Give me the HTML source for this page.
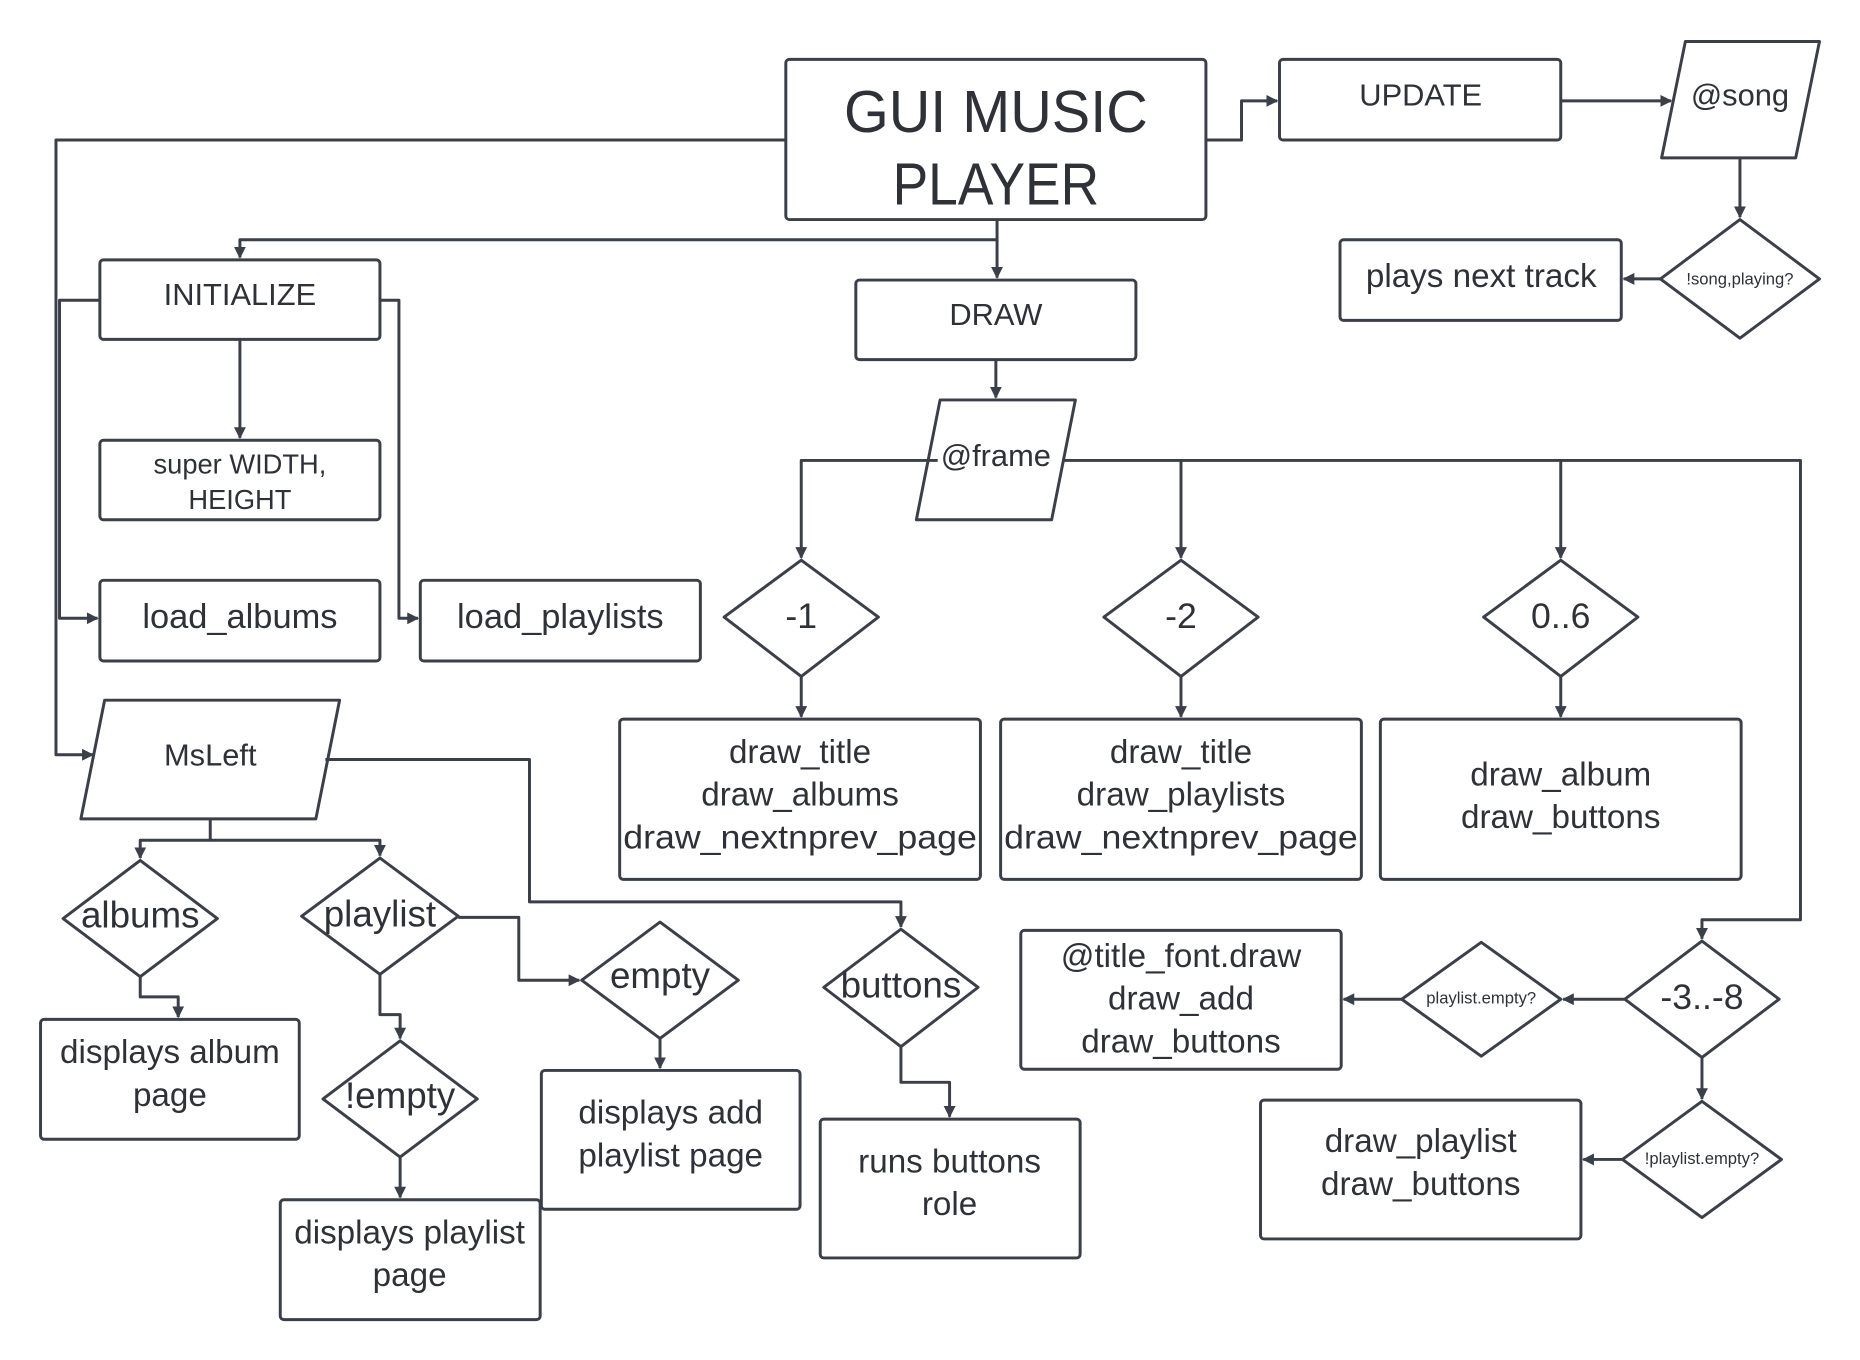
<!DOCTYPE html>
<html><head><meta charset="utf-8"><style>
html,body{margin:0;padding:0;background:#fff}
svg{display:block}
text{font-family:"Liberation Sans",sans-serif;fill:#2e3138;text-anchor:middle;dominant-baseline:central}
</style></head><body>
<svg width="1860" height="1360" viewBox="0 0 1567 1146" xmlns="http://www.w3.org/2000/svg">
<defs><marker id="a" markerWidth="10" markerHeight="10" refX="9" refY="5" orient="auto" markerUnits="userSpaceOnUse"><path d="M0,0 L10,5 L0,10 z" fill="#3a3f4a"/></marker></defs>
<g fill="#fff" stroke="#3a3f4a" stroke-width="2.5" stroke-linejoin="round">
<rect x="662" y="50" width="354" height="135" rx="3"/>
<rect x="1078" y="50" width="237" height="68" rx="3"/>
<polygon points="1420,35 1533,35 1513,133 1400,133"/>
<polygon points="1466,185 1533,235 1466,285 1399,235"/>
<rect x="1129" y="202" width="237" height="68" rx="3"/>
<rect x="84" y="219" width="236" height="67" rx="3"/>
<rect x="721" y="236" width="236" height="67" rx="3"/>
<polygon points="792,337 906,337 886,438 772,438"/>
<rect x="84" y="371" width="236" height="67" rx="3"/>
<rect x="84" y="489" width="236" height="68" rx="3"/>
<rect x="354" y="489" width="236" height="68" rx="3"/>
<polygon points="88,590 286,590 266,690 68,690"/>
<polygon points="675,472 740,520 675,570 610,520"/>
<polygon points="995,472 1060,520 995,570 930,520"/>
<polygon points="1315,472 1380,520 1315,570 1250,520"/>
<rect x="522" y="606" width="304" height="135" rx="3"/>
<rect x="843" y="606" width="304" height="135" rx="3"/>
<rect x="1163" y="606" width="304" height="135" rx="3"/>
<polygon points="1434,793 1499,842 1434,891 1369,842"/>
<polygon points="1248,794 1315,842 1248,890 1181,842"/>
<rect x="860" y="784" width="270" height="117" rx="3"/>
<polygon points="1434,928 1501,977 1434,1026 1367,977"/>
<rect x="1062" y="927" width="270" height="117" rx="3"/>
<polygon points="118,725 183,774 118,823 53,774"/>
<polygon points="320,723 386,772 320,821 254,772"/>
<polygon points="556,777 622,826 556,875 490,826"/>
<polygon points="759,783 824,832 759,882 694,832"/>
<polygon points="337,877 402,926 337,975 272,926"/>
<rect x="34" y="859" width="218" height="101" rx="3"/>
<rect x="456" y="902" width="218" height="117" rx="3"/>
<rect x="691" y="943" width="219" height="117" rx="3"/>
<rect x="236" y="1011" width="219" height="101" rx="3"/>
</g>
<g fill="none" stroke="#3a3f4a" stroke-width="2.5" stroke-linejoin="round">
<path d="M662,118 H47 V636 H78" marker-end="url(#a)"/>
<path d="M84,253 H50 V521 H82" marker-end="url(#a)"/>
<path d="M320,253 H336 V521 H352" marker-end="url(#a)"/>
<path d="M202,286 V369" marker-end="url(#a)"/>
<path d="M840,185 V234" marker-end="url(#a)"/>
<path d="M840,202 H202 V217" marker-end="url(#a)"/>
<path d="M1016,118 H1046 V85 H1076" marker-end="url(#a)"/>
<path d="M1315,85 H1408" marker-end="url(#a)"/>
<path d="M1466,133 V183" marker-end="url(#a)"/>
<path d="M1399,235 H1368" marker-end="url(#a)"/>
<path d="M839,303 V335" marker-end="url(#a)"/>
<path d="M790,388 H675 V470" marker-end="url(#a)"/>
<path d="M895,388 H995 V470" marker-end="url(#a)"/>
<path d="M995,388 H1315 V470" marker-end="url(#a)"/>
<path d="M1315,388 H1517 V775 H1434 V791" marker-end="url(#a)"/>
<path d="M675,570 V604" marker-end="url(#a)"/>
<path d="M995,570 V604" marker-end="url(#a)"/>
<path d="M1315,570 V604" marker-end="url(#a)"/>
<path d="M1369,842 H1317" marker-end="url(#a)"/>
<path d="M1181,842 H1132" marker-end="url(#a)"/>
<path d="M1434,891 V926" marker-end="url(#a)"/>
<path d="M1367,977 H1334" marker-end="url(#a)"/>
<path d="M177,690 V708 H118 V723" marker-end="url(#a)"/>
<path d="M177,708 H320 V721" marker-end="url(#a)"/>
<path d="M274,640 H446 V760 H759 V781" marker-end="url(#a)"/>
<path d="M118,823 V840 H150 V857" marker-end="url(#a)"/>
<path d="M386,773 H437 V826 H488" marker-end="url(#a)"/>
<path d="M320,821 V855 H337 V875" marker-end="url(#a)"/>
<path d="M337,975 V1009" marker-end="url(#a)"/>
<path d="M556,875 V900" marker-end="url(#a)"/>
<path d="M759,882 V912 H800 V941" marker-end="url(#a)"/>
</g>
<text x="839" y="94" font-size="50" textLength="256" lengthAdjust="spacingAndGlyphs">GUI MUSIC</text>
<text x="839" y="155" font-size="50" textLength="174" lengthAdjust="spacingAndGlyphs">PLAYER</text>
<text x="1197" y="80" font-size="26">UPDATE</text>
<text x="1466" y="80" font-size="26">@song</text>
<text x="1466" y="235" font-size="14">!song,playing?</text>
<text x="1248" y="233" font-size="28">plays next track</text>
<text x="202" y="248" font-size="26">INITIALIZE</text>
<text x="839" y="265" font-size="26">DRAW</text>
<text x="839" y="384" font-size="26">@frame</text>
<text x="202" y="391" font-size="23">super WIDTH,</text>
<text x="202" y="421" font-size="23">HEIGHT</text>
<text x="202" y="520" font-size="29">load_albums</text>
<text x="472" y="520" font-size="29">load_playlists</text>
<text x="177" y="636" font-size="26">MsLeft</text>
<text x="675" y="519" font-size="30">-1</text>
<text x="995" y="519" font-size="30">-2</text>
<text x="1315" y="519" font-size="30">0..6</text>
<g font-size="28">
<text x="674" y="634">draw_title</text><text x="674" y="670">draw_albums</text><text x="674" y="706" textLength="298" lengthAdjust="spacingAndGlyphs">draw_nextnprev_page</text>
<text x="995" y="634">draw_title</text><text x="995" y="670">draw_playlists</text><text x="995" y="706" textLength="298" lengthAdjust="spacingAndGlyphs">draw_nextnprev_page</text>
<text x="1315" y="653">draw_album</text><text x="1315" y="689">draw_buttons</text>
<text x="995" y="806">@title_font.draw</text><text x="995" y="842">draw_add</text><text x="995" y="878">draw_buttons</text>
<text x="1197" y="962">draw_playlist</text><text x="1197" y="998">draw_buttons</text>
<text x="143" y="887">displays album</text><text x="143" y="923">page</text>
<text x="565" y="938">displays add</text><text x="565" y="974">playlist page</text>
<text x="800" y="979">runs buttons</text><text x="800" y="1015">role</text>
<text x="345" y="1039">displays playlist</text><text x="345" y="1075">page</text>
</g>
<text x="1434" y="840" font-size="30">-3..-8</text>
<text x="1248" y="841" font-size="14">playlist.empty?</text>
<text x="1434" y="976" font-size="14">!playlist.empty?</text>
<g font-size="31">
<text x="118" y="771">albums</text>
<text x="320" y="770">playlist</text>
<text x="556" y="822">empty</text>
<text x="759" y="830">buttons</text>
<text x="337" y="923">!empty</text>
</g>
</svg>
</body></html>
